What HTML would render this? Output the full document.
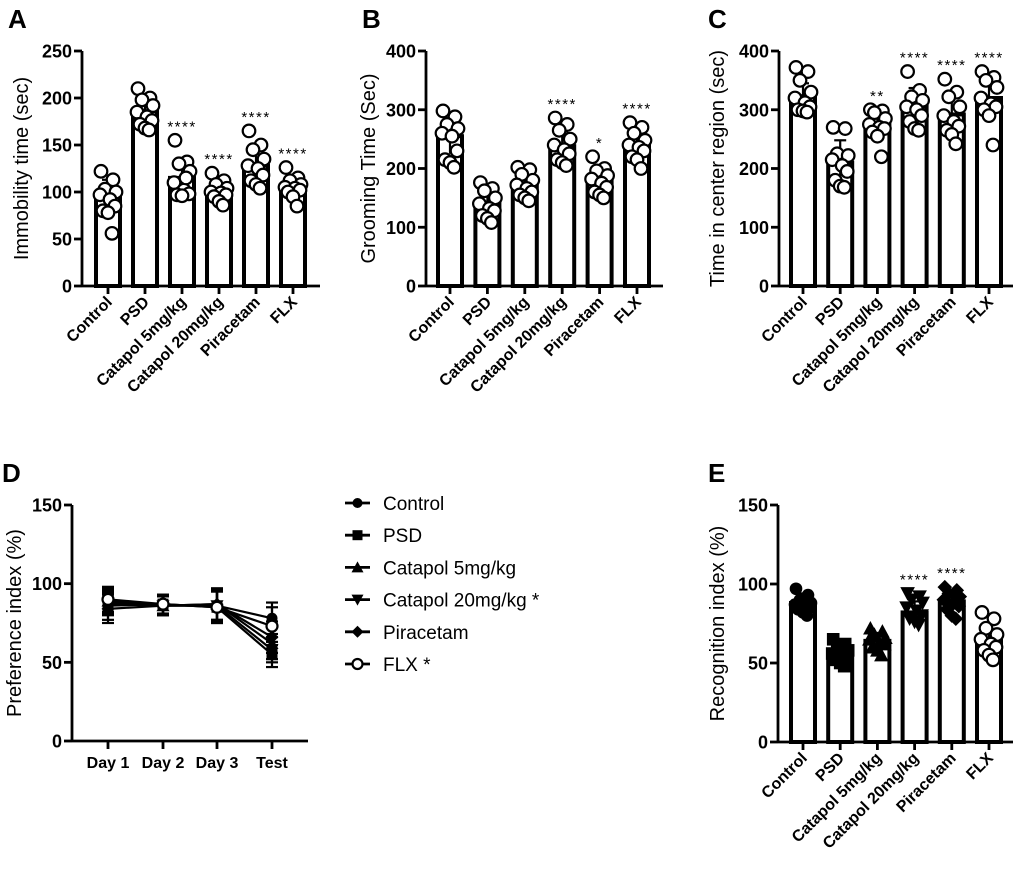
<!DOCTYPE html>
<html><head><meta charset="utf-8"><style>
html,body{margin:0;padding:0;background:#fff}
svg{display:block;font-family:"Liberation Sans",Arial,sans-serif}
</style></head><body>
<svg id="fig" width="1020" height="870" viewBox="0 0 1020 870" xmlns="http://www.w3.org/2000/svg"></svg>
<script>
const groups = ["Control","PSD","Catapol 5mg/kg","Catapol 20mg/kg","Piracetam","FLX"];
// Panel A
const aMeans = [95,186,115,102,128,105];
const aSD = [18,12,18,9,18,11];
const aSig = ["","","****","****","****","****"];
const aPts = [[122,113,103,100,97,92,85,80,78,56],[210,200,198,192,185,180,176,172,168,166],[155,132,130,122,110,102,98,97,96,115],[120,112,108,104,100,99,97,95,90,86],[165,150,145,135,128,125,118,112,108,104],[126,115,112,108,105,104,102,100,95,85]];
// Panel B
const bMeans = [255,142,170,238,178,240];
const bSD = [30,20,18,25,18,22];
const bSig = ["","","","****","*","****"];
const bPts = [[298,288,275,268,260,255,230,215,210,202],[176,166,162,150,140,132,128,120,115,108],[202,198,190,180,172,166,160,155,150,145],[286,275,265,250,240,232,225,215,210,205],[220,200,196,188,182,175,168,160,155,150],[278,270,260,248,240,236,230,220,215,200]];
// Panel C
const cMeans = [323,210,275,305,292,320];
const cSD = [22,38,20,32,32,35];
const cSig = ["","","**","****","****","****"];
const cPts = [[372,365,350,330,320,312,305,300,298,296],[270,268,225,222,215,205,195,180,170,168],[300,298,295,285,275,270,268,262,255,220],[365,333,322,316,305,300,290,280,268,265],[352,330,322,305,290,280,272,265,258,242],[365,355,350,338,320,310,305,300,290,240]];
// Panel E
const eMeans = [88,57,64,82,89,64];
const eSD = [6,6,5,7,7,10];
const eSig = ["","","","****","****",""];
const ePts = [[97,93,90,88,87,86,85,84,82,80],[65,62,60,58,56,55,54,52,50,48],[72,70,68,66,65,63,62,60,58,55],[94,92,90,88,85,83,80,78,76,74],[98,96,94,92,90,88,86,84,80,78],[82,78,72,68,65,62,60,58,55,52]];
// Panel D
const dDays = ["Day 1","Day 2","Day 3","Test"];
const dSeries = [[88,86,86,78],[86,87,85,55],[89,86,87,62],[87,86,86,58],[84,86,87,66],[90,87,85,73]];
const dErr = [[8,6,10,10],[9,6,10,8],[8,6,10,10],[7,6,10,8],[9,6,10,10],[8,6,10,12]];
const dLegend = ["Control","PSD","Catapol 5mg/kg","Catapol 20mg/kg *","Piracetam","FLX *"];
const dMarkers = ["circle","square","tri","itri","diamond","open"];

const NS="http://www.w3.org/2000/svg";
const svg=document.getElementById('fig');
function el(tag,attrs,parent,text){const e=document.createElementNS(NS,tag);for(const k in attrs)e.setAttribute(k,attrs[k]);if(text!==undefined)e.textContent=text;(parent||svg).appendChild(e);return e;}

function marker(g,type,cx,cy,r){
  let m;
  if(type==="circle") m=el('circle',{cx,cy,r,fill:'#000'},g);
  else if(type==="open") m=el('circle',{cx,cy,r,fill:'#fff',stroke:'#000','stroke-width':2.2},g);
  else if(type==="square") m=el('rect',{x:cx-r,y:cy-r,width:2*r,height:2*r,fill:'#000'},g);
  else if(type==="tri") m=el('polygon',{points:`${cx},${cy-r-1} ${cx-r-1},${cy+r} ${cx+r+1},${cy+r}`,fill:'#000'},g);
  else if(type==="itri") m=el('polygon',{points:`${cx},${cy+r+1} ${cx-r-1},${cy-r} ${cx+r+1},${cy-r}`,fill:'#000'},g);
  else m=el('polygon',{points:`${cx},${cy-r-1} ${cx+r+1},${cy} ${cx},${cy+r+1} ${cx-r-1},${cy}`,fill:'#000'},g);
  return m;
}

const jit=[-7,5,-3,8,-8,2,7,-5,0,4];

function barPanel(o){
  const g=el('g',{});
  
  
  const y=v=>o.y0-(v/o.max)*(o.y0-o.yTop);
  const xc=i=>o.x0+o.first+i*o.step;
  const lt=el('text',{x:o.letterX,y:o.letterY,'font-size':26,'font-weight':'bold'},g,o.letter);
  
  const ya=el('line',{x1:o.x0,y1:o.yTop,x2:o.x0,y2:o.y0,stroke:'#000','stroke-width':2.8},g);
  
  const xa=el('line',{x1:o.x0,y1:o.y0,x2:o.xEnd,y2:o.y0,stroke:'#000','stroke-width':2.8},g);
  
  o.ticks.forEach(t=>{
    el('line',{x1:o.x0-8,y1:y(t),x2:o.x0,y2:y(t),stroke:'#000','stroke-width':2.8},g);
    const tl=el('text',{x:o.x0-10,y:y(t)+6.5,'font-size':18,'font-weight':'bold','text-anchor':'end'},g,String(t));
    
  });
  const ym=(o.yTop+o.y0)/2;
  const yt=el('text',{x:o.titleX,y:ym,'font-size':20,'text-anchor':'middle',transform:`rotate(-90 ${o.titleX} ${ym})`},g,o.title);
  
  groups.forEach((gn,i)=>{
    const cx=xc(i);
    const b=el('rect',{x:cx-12,y:y(o.means[i]),width:24,height:o.y0-y(o.means[i]),fill:'#fff',stroke:'#000','stroke-width':4},g);
    
    
    const e1=y(o.means[i]+o.sd[i]), e2=y(o.means[i]-o.sd[i]);
    el('line',{x1:cx,y1:e1,x2:cx,y2:e2,stroke:'#000','stroke-width':2.2},g);
    el('line',{x1:cx-6,y1:e1,x2:cx+6,y2:e1,stroke:'#000','stroke-width':2.2},g);
    o.pts[i].forEach((v,k)=>{
      const m=marker(g,o.markers?o.markers[i]:'open',cx+jit[k],y(v),6.3);
      
      
    });
    el('line',{x1:cx,y1:o.y0,x2:cx,y2:o.y0+8,stroke:'#000','stroke-width':2.8},g);
    const lx=cx+5, ly=o.y0+17;
    const xl=el('text',{x:lx,y:ly,'font-size':16,'font-weight':'bold','text-anchor':'end',transform:`rotate(-45 ${lx} ${ly})`},g,gn);
    
    if(o.sig[i]){
      const top=Math.max(...o.pts[i],o.means[i]+o.sd[i]);
      const st=el('text',{x:cx,y:y(top)-9,'font-size':15,'text-anchor':'middle','letter-spacing':'1.5'},g,o.sig[i]);
      
    }
  });
}

barPanel({name:'panel-a-immobility',letter:'A',letterX:8,letterY:28,x0:82,xEnd:320,first:26,step:37,yTop:51,y0:286,max:250,ticks:[0,50,100,150,200,250],title:'Immobility time (sec)',titleX:28,means:aMeans,sd:aSD,sig:aSig,pts:aPts});
barPanel({name:'panel-b-grooming',letter:'B',letterX:362,letterY:28,x0:426,xEnd:663,first:24,step:37.4,yTop:51,y0:286,max:400,ticks:[0,100,200,300,400],title:'Grooming Time (Sec)',titleX:375,means:bMeans,sd:bSD,sig:bSig,pts:bPts});
barPanel({name:'panel-c-center-time',letter:'C',letterX:708,letterY:28,x0:779,xEnd:1013,first:24,step:37.2,yTop:51,y0:286,max:400,ticks:[0,100,200,300,400],title:'Time in center region (sec)',titleX:724,means:cMeans,sd:cSD,sig:cSig,pts:cPts});
barPanel({name:'panel-e-recognition',letter:'E',letterX:708,letterY:482,x0:778,xEnd:1013,first:25,step:37.2,yTop:505,y0:742,max:150,ticks:[0,50,100,150],title:'Recognition index (%)',titleX:724,means:eMeans,sd:eSD,sig:eSig,pts:ePts,markers:dMarkers.map(m=>m)});

(function(){
  const g=el('g',{});
  
  
  const x0=72,y0=741,yTop=505,xEnd=308,max=150;
  const y=v=>y0-(v/max)*(y0-yTop);
  const xs=[108,163,217,272];
  const xp=i=>xs[i];
  const lt=el('text',{x:2,y:482,'font-size':26,'font-weight':'bold'},g,'D');
  
  const ya=el('line',{x1:x0,y1:yTop,x2:x0,y2:y0,stroke:'#000','stroke-width':2.8},g);
  
  const xa=el('line',{x1:x0,y1:y0,x2:xEnd,y2:y0,stroke:'#000','stroke-width':2.8},g);
  
  [0,50,100,150].forEach(t=>{
    el('line',{x1:x0-8,y1:y(t),x2:x0,y2:y(t),stroke:'#000','stroke-width':2.8},g);
    const tl=el('text',{x:x0-10,y:y(t)+6.5,'font-size':18,'font-weight':'bold','text-anchor':'end'},g,String(t));
    
  });
  const ym=(yTop+y0)/2;
  const yt=el('text',{x:21,y:ym,'font-size':20,'text-anchor':'middle',transform:`rotate(-90 21 ${ym})`},g,'Preference index (%)');
  
  dDays.forEach((d,i)=>{
    el('line',{x1:xp(i),y1:y0,x2:xp(i),y2:y0+8,stroke:'#000','stroke-width':2.8},g);
    const xl=el('text',{x:xp(i),y:y0+27,'font-size':16,'font-weight':'bold','text-anchor':'middle'},g,d);
    
  });
  dSeries.forEach((s,si)=>{
    const sg=el('g',{},g);
    
    
    el('polyline',{points:s.map((v,i)=>xp(i)+','+y(v)).join(' '),fill:'none',stroke:'#000','stroke-width':2.2},sg);
    s.forEach((v,i)=>{
      const e=dErr[si][i];
      el('line',{x1:xp(i),y1:y(v+e),x2:xp(i),y2:y(v-e),stroke:'#000','stroke-width':2.2},sg);
      el('line',{x1:xp(i)-6,y1:y(v+e),x2:xp(i)+6,y2:y(v+e),stroke:'#000','stroke-width':2.2},sg);
      el('line',{x1:xp(i)-6,y1:y(v-e),x2:xp(i)+6,y2:y(v-e),stroke:'#000','stroke-width':2.2},sg);
      const m=marker(sg,dMarkers[si],xp(i),y(v),5.5);
      
      
    });
  });
  dLegend.forEach((t,i)=>{
    const ly=503+i*32.2;
    const lg=el('g',{},svg);
    
    
    el('line',{x1:345,y1:ly,x2:370,y2:ly,stroke:'#000','stroke-width':2.8},lg);
    marker(lg,dMarkers[i],357.5,ly,5);
    el('text',{x:383,y:ly+7,'font-size':19},lg,t);
  });
})();
</script>
</body></html>
